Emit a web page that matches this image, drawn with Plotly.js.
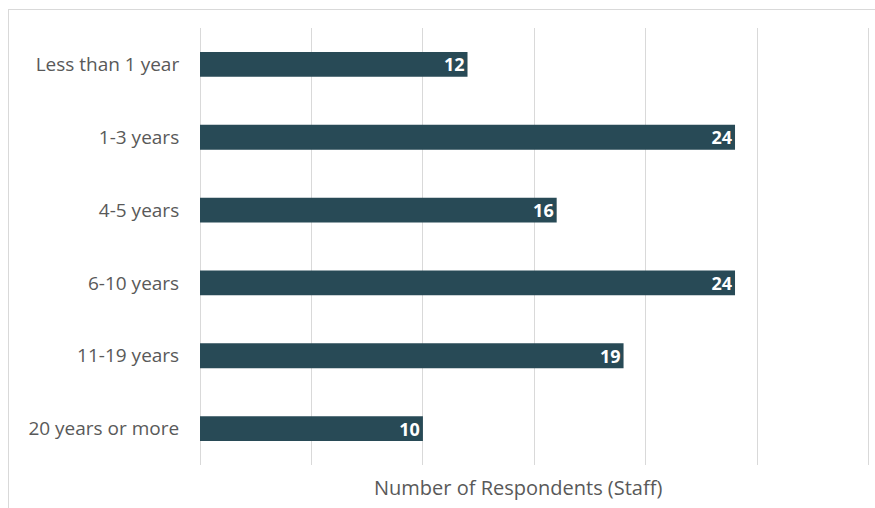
<!DOCTYPE html>
<html>
<head>
<meta charset="utf-8">
<script src="https://cdn.plot.ly/plotly-3.0.1.min.js"></script>
<style>
html,body{margin:0;padding:0;background:#fff;}
#frame{position:absolute;left:8px;top:9px;width:880px;height:520px;border:1px solid #d9d9d9;box-sizing:border-box;}
#chart{position:absolute;left:0;top:0;width:875px;height:508px;}
</style>
</head>
<body>
<div id="frame"></div>
<div id="chart"></div>
<script>
const categories = ["Less than 1 year", "1-3 years", "4-5 years", "6-10 years", "11-19 years", "20 years or more"];
const values = [12, 24, 16, 24, 19, 10];
const xTitle = "Number of Respondents (Staff)";

const trace = {
  type: "bar",
  orientation: "h",
  y: categories,
  x: values,
  text: values.map(String),
  textposition: "inside",
  insidetextanchor: "end",
  textangle: 0,
  constraintext: "none",
  textfont: {family: "'Open Sans', sans-serif", size: 18, color: "#ffffff", weight: "bold"},
  marker: {color: "#284a56"},
  hoverinfo: "none",
  cliponaxis: false
};

const layout = {
  width: 875,
  height: 508,
  margin: {l: 200, r: 4, t: 28, b: 43},
  paper_bgcolor: "rgba(0,0,0,0)",
  plot_bgcolor: "rgba(0,0,0,0)",
  bargap: 0.66,
  showlegend: false,
  font: {family: "'Open Sans', sans-serif", color: "#595959", size: 19},
  xaxis: {
    range: [0, 30.1],
    dtick: 5,
    showgrid: true,
    gridcolor: "#d9d9d9",
    gridwidth: 1,
    zeroline: true,
    zerolinecolor: "#d9d9d9",
    zerolinewidth: 1,
    showticklabels: false,
    showline: false,
    ticks: ""
  },
  yaxis: {
    autorange: "reversed",
    showgrid: false,
    zeroline: false,
    showline: false,
    ticks: "outside",
    ticklen: 16,
    tickcolor: "rgba(0,0,0,0)",
    tickfont: {size: 19, color: "#595959"}
  },
  annotations: [{
    text: xTitle,
    xref: "paper", yref: "paper",
    x: (518 - 200) / 671, y: -(487 - 465) / 437,
    xanchor: "center", yanchor: "middle",
    showarrow: false,
    font: {size: 20, color: "#595959"}
  }]
};

Plotly.newPlot("chart", [trace], layout, {displayModeBar: false, staticPlot: true});
</script>
</body>
</html>
